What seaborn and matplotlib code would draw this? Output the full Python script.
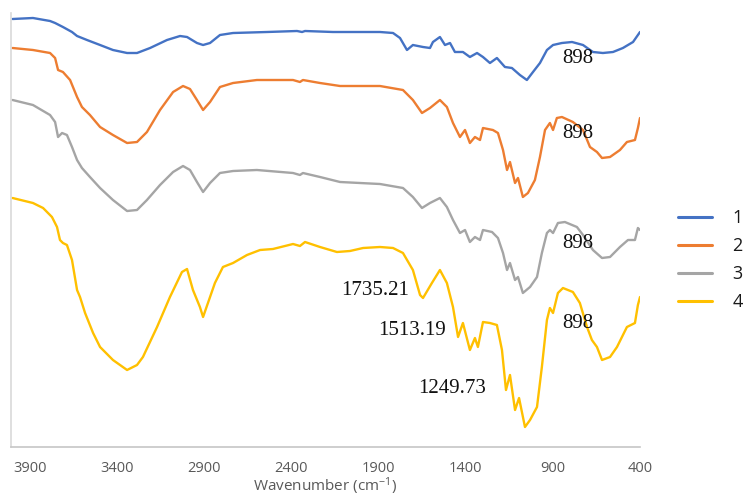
import matplotlib
matplotlib.use("Agg")
import matplotlib.pyplot as plt
import numpy as np
import pandas as pd
import seaborn as sns

# FTIR spectra, wavenumber (cm-1) vs. offset transmittance (a.u.)
wn_1 = [4000, 3883, 3785, 3756, 3711, 3659, 3630, 3573, 3498, 3424, 3343, 3286, 3211, 3114,
        3039, 2999, 2942, 2907, 2867, 2810, 2735, 2540, 2368, 2339, 2322, 2162, 1892, 1817,
        1777, 1737, 1703, 1645, 1605, 1588, 1548, 1519, 1490, 1462, 1416, 1376, 1335, 1301,
        1261, 1221, 1175, 1135, 1089, 1049, 1014, 974, 934, 899, 848, 790, 727, 670, 613,
        555, 498, 440, 400]
t_1 = [428, 429, 426, 424, 420, 415, 411, 407, 402, 397, 394, 394, 399, 407,
       411, 410, 404, 402, 404, 412, 414, 415, 416, 415, 416, 415, 415, 414,
       409, 397, 402, 400, 399, 405, 410, 402, 404, 395, 395, 390, 394, 390,
       384, 389, 380, 379, 372, 367, 375, 384, 397, 402, 404, 405, 402, 395, 394,
       395, 399, 405, 415]

wn_2 = [4000, 3883, 3785, 3756, 3739, 3711, 3670, 3630, 3602, 3556, 3498, 3424, 3343, 3286,
        3229, 3154, 3079, 3022, 2982, 2942, 2907, 2867, 2810, 2735, 2598, 2391, 2351, 2334,
        2236, 2121, 1892, 1760, 1703, 1651, 1605, 1548, 1508, 1473, 1433, 1404, 1376, 1347,
        1318, 1301, 1244, 1215, 1186, 1163, 1146, 1117, 1100, 1072, 1043, 1003, 974, 945,
        917, 899, 877, 848, 785, 727, 687, 647, 618, 572, 515, 475, 429, 412, 400]
t_2 = [399, 397, 394, 389, 377, 375, 367, 350, 340, 332, 320, 312, 304, 305,
       315, 337, 355, 361, 358, 347, 337, 345, 360, 364, 367, 367, 365, 367,
       364, 361, 361, 357, 347, 334, 339, 347, 340, 324, 310, 317, 304, 310,
       307, 319, 317, 314, 297, 277, 285, 264, 269, 250, 254, 267, 290, 317,
       324, 317, 329, 330, 325, 317, 300, 295, 289, 290, 297, 305, 307, 319, 329]

wn_3 = [4000, 3883, 3785, 3756, 3739, 3716, 3688, 3659, 3630, 3602, 3556, 3498, 3424, 3343,
        3286, 3229, 3154, 3079, 3022, 2982, 2942, 2907, 2867, 2810, 2735, 2598, 2391, 2351,
        2334, 2236, 2121, 1892, 1760, 1703, 1651, 1605, 1548, 1508, 1473, 1433, 1404, 1376,
        1347, 1318, 1301, 1249, 1215, 1186, 1163, 1146, 1117, 1100, 1072, 1031, 991, 963,
        934, 917, 899, 871, 831, 762, 727, 670, 618, 572, 515, 469, 429, 412, 400]
t_3 = [347, 342, 332, 325, 310, 314, 312, 300, 287, 279, 270, 259, 247, 236,
       237, 247, 262, 275, 281, 277, 265, 255, 264, 274, 276, 277, 274, 272,
       274, 270, 265, 263, 259, 250, 239, 244, 249, 240, 227, 214, 217, 205,
       210, 207, 217, 215, 209, 194, 177, 184, 167, 170, 154, 160, 170, 194,
       214, 217, 214, 224, 225, 220, 212, 197, 189, 190, 200, 207, 207, 219, 217]

wn_4 = [4000, 3883, 3825, 3774, 3745, 3728, 3711, 3688, 3659, 3630, 3613, 3584, 3538, 3498,
        3424, 3343, 3286, 3252, 3171, 3097, 3028, 2999, 2965, 2925, 2907, 2879, 2839, 2793,
        2735, 2655, 2580, 2506, 2391, 2351, 2322, 2236, 2139, 2064, 1989, 1892, 1817, 1760,
        1703, 1662, 1645, 1594, 1548, 1508, 1473, 1444, 1416, 1376, 1347, 1330, 1301, 1261,
        1221, 1192, 1169, 1146, 1117, 1094, 1060, 1031, 991, 963, 934, 917, 899, 871, 842,
        785, 745, 704, 676, 647, 618, 572, 532, 475, 429, 412, 400]
t_4 = [249, 244, 239, 230, 220, 207, 204, 202, 187, 157, 150, 134, 114, 100,
       87, 77, 82, 90, 120, 150, 175, 178, 157, 140, 130, 144, 164, 180,
       184, 192, 197, 198, 203, 201, 205, 200, 195, 196, 199, 200, 199, 194,
       177, 152, 149, 164, 177, 164, 140, 110, 124, 97, 109, 100, 125, 124,
       122, 97, 57, 72, 37, 49, 20, 27, 40, 80, 127, 139, 134, 154, 159,
       155, 144, 120, 107, 100, 87, 90, 100, 120, 124, 142, 150]

samples = ["1", "2", "3", "4"]
colors = ["#4472C4", "#ED7D31", "#A5A5A5", "#FFC000"]
x_ticks = [3900, 3400, 2900, 2400, 1900, 1400, 900, 400]

# Band labels: (text, wavenumber, transmittance)
band_labels = [
    ("898", 756, 389),
    ("898", 756, 314),
    ("898", 756, 204),
    ("898", 756, 124),
    ("1735.21", 1921, 157),
    ("1513.19", 1708, 117),
    ("1249.73", 1479, 59),
]

frames = []
for name, wn, t in zip(samples, [wn_1, wn_2, wn_3, wn_4], [t_1, t_2, t_3, t_4]):
    frames.append(pd.DataFrame({"wavenumber": wn, "transmittance": t, "sample": name}))
df = pd.concat(frames, ignore_index=True)

sns.set_theme(style="white")
plt.rcParams["font.family"] = ["Open Sans", "DejaVu Sans"]
plt.rcParams["mathtext.fontset"] = "custom"
plt.rcParams["mathtext.rm"] = "Open Sans"
plt.rcParams["mathtext.default"] = "regular"

fig = plt.figure(figsize=(7.49, 4.98), dpi=100)
ax = fig.add_axes([11 / 749, 51 / 498, 629 / 749, 434 / 498])

sns.lineplot(data=df, x="wavenumber", y="transmittance", hue="sample",
             palette=dict(zip(samples, colors)), linewidth=1.7, ax=ax,
             estimator=None, sort=False)

ax.set_xlim(4009, 400)
ax.set_ylim(0, 434)
ax.set_xticks(x_ticks)
ax.set_xticklabels([str(v) for v in x_ticks])
ax.set_yticks([])
ax.set_ylabel("")
ax.set_xlabel("Wavenumber (cm$^{-1}$)", color="#595959", fontsize=11, labelpad=0)
ax.tick_params(axis="x", length=0, pad=10, labelsize=10.5, labelcolor="#595959")

for side in ["top", "right"]:
    ax.spines[side].set_visible(False)
ax.spines["left"].set_color("#D9D9D9")
ax.spines["left"].set_linewidth(1.2)
ax.spines["bottom"].set_color("#C6C6C6")
ax.spines["bottom"].set_linewidth(1.2)

for text, x, y in band_labels:
    ax.text(x, y, text, ha="center", va="center", fontsize=15,
            family="Liberation Serif", color="#111111")

handles, labels = ax.get_legend_handles_labels()
ax.get_legend().remove()
leg = fig.legend(handles, labels, loc="center left",
                 bbox_to_anchor=(678 / 749, 1 - 260 / 498), frameon=False,
                 fontsize=13, handlelength=1.9, handletextpad=1.1,
                 labelspacing=0.55, borderpad=0, borderaxespad=0)
for line in leg.get_lines():
    line.set_linewidth(2.2)
for t in leg.get_texts():
    t.set_color("#1a1a1a")

fig.savefig("out.png", dpi=100)
